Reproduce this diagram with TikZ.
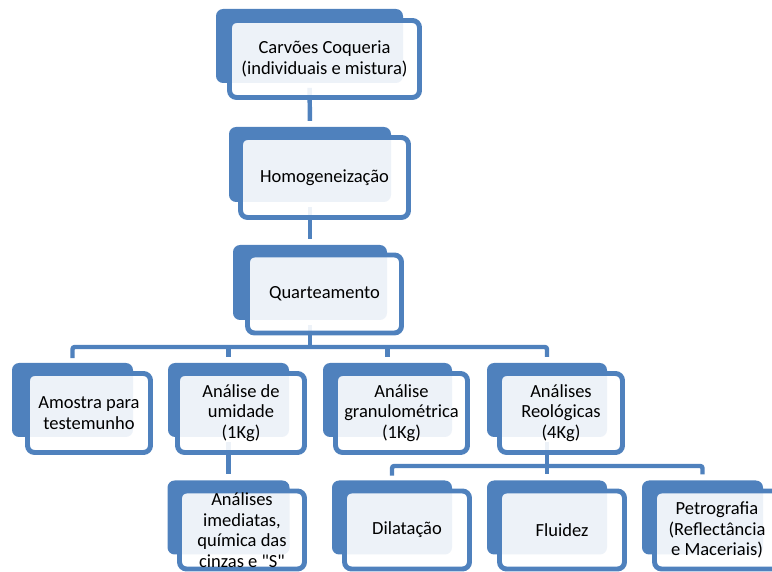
\documentclass[tikz,border=0pt]{standalone}
\usepackage{fontspec}
\setmainfont{Carlito}[Ligatures=TeXOff]
\usepackage{xcolor}
\usetikzlibrary{calc}
\definecolor{smblue}{HTML}{4F81BD}
\newcommand{\pxu}{0.03cm}
\tikzset{
  backbox/.style 2 args={rectangle,rounded corners=6pt,fill=smblue,inner sep=0pt,
    minimum width=#1*\pxu,minimum height=#2*\pxu},
  frontbox/.style 2 args={rectangle,rounded corners=6pt,draw=smblue,line width=4.2pt,
    fill=white,fill opacity=0.9,text opacity=1,inner sep=0pt,align=center,
    font=\fontsize{15.8}{17.5}\selectfont,minimum width=#1*\pxu,minimum height=#2*\pxu},
  conn/.style={smblue,line width=3.8pt,rounded corners=2pt,shorten <=4pt,shorten >=5pt}
}

\begin{document}
\begin{tikzpicture}[x=0.03cm,y=-0.03cm]
\useasboundingbox (0,0) rectangle (772,572);
\clip (0,0) rectangle (772,572);
% back boxes
\node[backbox={187}{74}] (top) at (309.5,46) {};
\node[backbox={162}{75}] (homo) at (310,164.5) {};
\node[backbox={154}{75}] (quart) at (310,282.5) {};
\node[backbox={121}{74}] (amos) at (72.5,400) {};
\node[backbox={121}{74}] (umid) at (228.5,400) {};
\node[backbox={129}{74}] (gran) at (387.5,400) {};
\node[backbox={120}{74}] (reol) at (547,400) {};
\node[backbox={122}{74}] (imed) at (228.5,517.5) {};
\node[backbox={120}{74}] (dila) at (392,517.5) {};
\node[backbox={120}{74}] (flui) at (547,517.5) {};
\node[backbox={121}{74}] (petr) at (702.5,517.5) {};
% connectors
\coordinate (bus1) at (310,347);
\coordinate (bus2) at (547,466);
\draw[conn] (top.south) -- (homo.north);
\draw[conn] (homo.south) -- (quart.north);
\draw[conn,shorten >=0pt] (quart.south) -- (bus1);
\draw[conn] (amos.north) |- (bus1) -| (reol.north);
\draw[conn,shorten <=0pt] (bus1 -| umid.north) -- (umid.north);
\draw[conn,shorten <=0pt] (bus1 -| gran.north) -- (gran.north);
\draw[conn] (umid.south) -- (imed.north);
\draw[conn,shorten >=0pt] (reol.south) -- (bus2);
\draw[conn] (dila.north) |- (bus2) -| (petr.north);
\draw[conn,shorten <=0pt] (bus2) -- (flui.north);
% front boxes with text
\node[frontbox={190}{77}] (topf) at (324.5,59) {Carvões Coqueria\\(individuais e mistura)};
\node[frontbox={168}{80}] (homof) at (324.5,177.5) {Homogeneização};
\node[frontbox={154}{78}] (quartf) at (324.5,294) {Quarteamento};
\node[frontbox={123}{79}] (amosf) at (89,413) {Amostra para\\testemunho};
\node[frontbox={127}{79}] (umidf) at (241,413) {Análise de\\umidade\\(1Kg)};
\node[frontbox={132}{79}] (granf) at (401.5,413) {Análise\\granulométrica\\(1Kg)};
\node[frontbox={123}{79}] (reolf) at (561,413) {Análises\\Reológicas\\(4Kg)};
\node[frontbox={125}{78}] (imedf) at (242,530) {Análises\\imediatas,\\química das\\cinzas e "S"};
\node[frontbox={125}{78}] (dilaf) at (407,530) {Dilatação};
\node[frontbox={125}{78}] (fluif) at (562,530) {Fluidez};
\node[frontbox={125}{78}] (petrf) at (717,530) {Petrografia\\(Reflectância\\e Maceriais)};
\end{tikzpicture}
\end{document}
